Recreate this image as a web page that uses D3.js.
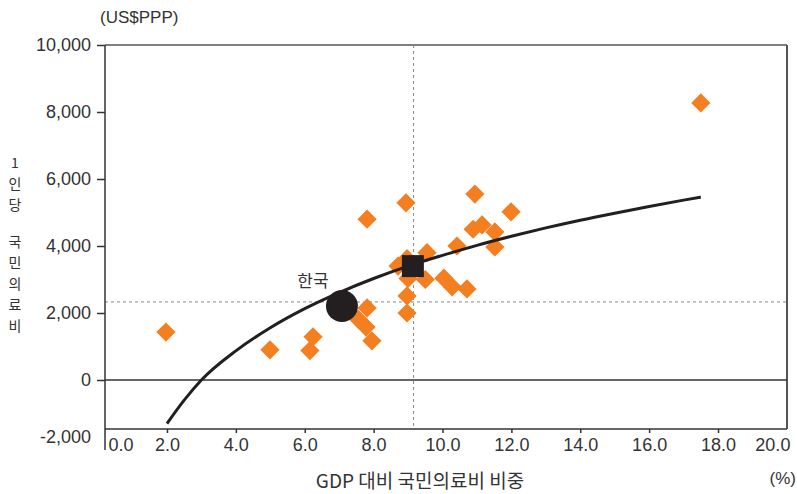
<!DOCTYPE html>
<html><head><meta charset="utf-8">
<script src="https://cdn.jsdelivr.net/npm/d3@7"></script>
<style>
html,body{margin:0;padding:0;background:#fff;}
svg text{font-family:"Liberation Sans","Noto Sans CJK KR",sans-serif;fill:#333;}
.kr{font-family:"Noto Sans CJK KR","Liberation Sans",sans-serif;}
</style></head>
<body>
<svg id="c" width="797" height="494"></svg>
<script>
// ---- data ----
const countryX = [1.97, 4.99, 6.15, 6.24, 7.55, 7.78, 7.95, 7.81, 7.81, 8.94, 8.97, 8.97, 8.71, 8.97, 9.00, 9.55, 9.50, 10.04, 10.28, 10.71, 10.42, 10.94, 10.89, 11.15, 11.52, 11.52, 11.99, 17.50];
const countryY = [1430, 900, 880, 1290, 1820, 1580, 1170, 2150, 4800, 5290, 2510, 2000, 3400, 3620, 3030, 3800, 3000, 3040, 2780, 2720, 4000, 5550, 4500, 4630, 4420, 3970, 5020, 8270];
const korea = {x: 7.08, y: 2210, label: "한국"};
const oecdAvg = {x: 9.14, y: 3400};
const refLineX = 9.16;
const refLineY = 2330;
const trendX = [2.0, 2.5, 3.0, 4, 5, 6, 7, 8, 9, 10, 11, 12, 13, 14, 15, 16, 17, 17.5];
const trendY = [-1300, -600, 0, 870, 1560, 2130, 2610, 3030, 3400, 3720, 4020, 4290, 4540, 4770, 4980, 5180, 5370, 5460];
const xTicks = [0, 2, 4, 6, 8, 10, 12, 14, 16, 18, 20];
const yTicks = [-2000, 0, 2000, 4000, 6000, 8000, 10000];
const yUnit = "(US$PPP)";
const xUnit = "(%)";
const xTitle = "GDP 대비 국민의료비 비중";
const yTitle = "1인당 국민의료비";

// ---- layout ----
const svg = d3.select("#c");
const axisX = 105, plotTop = 45, plotRight = 787, plotBottom = 429, yAxisBottom = 450;
const x = d3.scaleLinear().domain([0, 20]).range([98.1, 786.9]);
const y = d3.scaleLinear().domain([-2000, 10000]).range([447, 45]);
const fmtY = v => d3.format(",")(v).replace("\u2212", "-");

// frame top/right
svg.append("line").attr("x1", axisX).attr("x2", plotRight).attr("y1", plotTop).attr("y2", plotTop)
  .attr("stroke", "#555").attr("stroke-width", 1.5);
svg.append("line").attr("x1", plotRight).attr("x2", plotRight).attr("y1", plotTop).attr("y2", plotBottom)
  .attr("stroke", "#555").attr("stroke-width", 2);

// dashed reference lines
svg.append("line").attr("x1", axisX).attr("x2", plotRight).attr("y1", y(refLineY)).attr("y2", y(refLineY))
  .attr("stroke", "#888").attr("stroke-width", 1).attr("stroke-dasharray", "3,3");
svg.append("line").attr("x1", x(refLineX)).attr("x2", x(refLineX)).attr("y1", plotTop).attr("y2", plotBottom)
  .attr("stroke", "#888").attr("stroke-width", 1).attr("stroke-dasharray", "3,3");

// zero line
svg.append("line").attr("x1", axisX).attr("x2", plotRight).attr("y1", y(0)).attr("y2", y(0))
  .attr("stroke", "#333").attr("stroke-width", 1.5);

// y axis
const yAxis = d3.axisLeft(y).tickValues(yTicks).tickFormat(fmtY).tickSize(8).tickPadding(6);
const gy = svg.append("g").attr("transform", `translate(${axisX},0)`).call(yAxis);
gy.select(".domain").attr("d", `M0,${plotTop}V${yAxisBottom}`).attr("stroke", "#333").attr("stroke-width", 1.5);
gy.selectAll(".tick line").attr("stroke", "#333").attr("stroke-width", 1.5);
gy.selectAll(".tick").filter(d => d === -2000).select("line").remove();
gy.selectAll(".tick").filter(d => d === -2000).select("text").attr("dy", "-0.25em");
gy.selectAll(".tick text").attr("font-size", 18).attr("fill", "#333");

// x axis
const xAxis = d3.axisBottom(x).tickValues(xTicks).tickFormat(d3.format(".1f")).tickSize(4).tickPadding(5);
const gx = svg.append("g").attr("transform", `translate(0,${plotBottom})`).call(xAxis);
gx.select(".domain").attr("d", `M${axisX},0H${plotRight}`).attr("stroke", "#333").attr("stroke-width", 1.5);
gx.selectAll(".tick line").attr("stroke", "#333").attr("stroke-width", 1.5);
gx.selectAll(".tick text").attr("font-size", 18).attr("fill", "#333");
gx.selectAll(".tick").filter(d => d === 0).select("line").remove();
gx.selectAll(".tick").filter(d => d === 0).select("text").attr("text-anchor", "start").attr("dx", axisX + 3 - x(0));
gx.selectAll(".tick").filter(d => d === 20).select("line").remove();
gx.selectAll(".tick").filter(d => d === 20).select("text").attr("text-anchor", "end").attr("dx", 3);

// diamonds
const pts = countryX.map((v, i) => ({x: v, y: countryY[i]}));
svg.append("g").selectAll("path").data(pts).join("path")
  .attr("d", d3.symbol().type(d3.symbolSquare).size(185)())
  .attr("transform", d => `translate(${x(d.x)},${y(d.y)}) rotate(45)`)
  .attr("fill", "#F47F20");

// trend curve
const trend = trendX.map((v, i) => [v, trendY[i]]);
svg.append("path").datum(trend)
  .attr("d", d3.line().x(d => x(d[0])).y(d => y(d[1])).curve(d3.curveMonotoneX))
  .attr("fill", "none").attr("stroke", "#231F20").attr("stroke-width", 3);

// Korea
svg.append("circle").attr("cx", x(korea.x)).attr("cy", y(korea.y)).attr("r", 16).attr("fill", "#231F20");
svg.append("text").attr("class", "kr").attr("x", x(korea.x) - 29).attr("y", y(korea.y) - 19)
  .attr("text-anchor", "middle").attr("font-size", 17).text(korea.label);

// OECD average square
svg.append("path").attr("d", d3.symbol().type(d3.symbolSquare).size(22 * 22)())
  .attr("transform", `translate(${x(oecdAvg.x)},${y(oecdAvg.y)})`).attr("fill", "#231F20");

// titles
svg.append("text").attr("x", 100).attr("y", 23).attr("font-size", 17).text(yUnit);
svg.append("text").attr("x", 796).attr("y", 484).attr("text-anchor", "end").attr("font-size", 17).text(xUnit);
svg.append("text").attr("class", "kr").attr("x", 420).attr("y", 488).attr("text-anchor", "middle")
  .attr("font-size", 19).text(xTitle);

// vertical y title, stacked characters (one text per character)
const ytg = svg.append("g").attr("class", "kr");
let cy = 168;
for (const ch of yTitle) {
  if (ch === " ") { cy += 16; continue; }
  ytg.append("text").attr("class", "kr").attr("x", 15).attr("y", cy)
    .attr("font-size", 14).attr("text-anchor", "middle").text(ch);
  cy += 21;
}
</script>
</body></html>
